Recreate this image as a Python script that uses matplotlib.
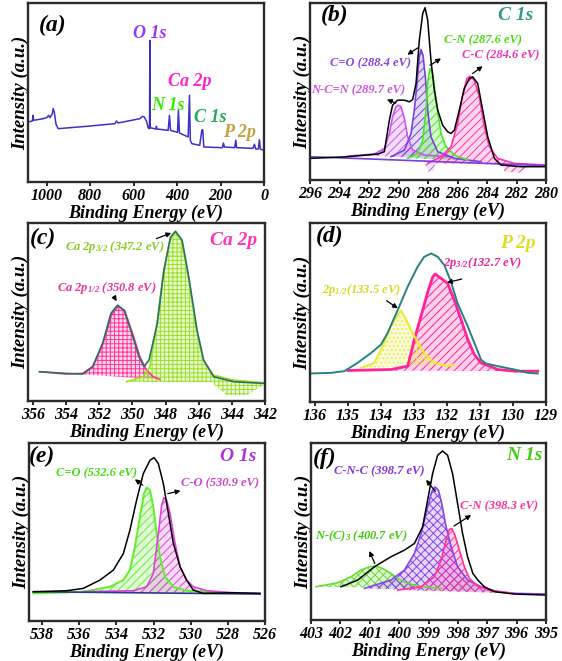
import matplotlib
matplotlib.use("Agg")
import matplotlib.pyplot as plt
from matplotlib.colors import to_rgba

plt.rcParams["font.family"] = "Liberation Serif"
plt.rcParams["font.weight"] = "bold"
plt.rcParams["font.style"] = "italic"
plt.rcParams["axes.labelweight"] = "bold"
plt.rcParams["mathtext.fontset"] = "custom"
plt.rcParams["mathtext.rm"] = "Liberation Serif:bold:italic"
plt.rcParams["mathtext.it"] = "Liberation Serif:bold:italic"
plt.rcParams["mathtext.default"] = "rm"
plt.rcParams["hatch.linewidth"] = 0.7

# ---- (a) survey ----
survey_ev = [1086, 1066, 1063, 1060, 1016, 1000, 991, 985, 974, 970, 965, 957, 947, 817,
             686, 679, 671, 571, 559, 551, 541, 533, 527, 525, 524, 498, 495, 492, 441,
             435, 430, 398, 394, 389, 349, 343, 339, 332, 296, 286, 282, 277, 191, 187,
             182, 135, 130, 126, 51, 44, 38, 26, 21, 17, 0]
survey_int = [180, 183, 200, 185, 190, 193, 200, 193, 205, 220, 210, 173, 160, 167,
              175, 183, 177, 190, 197, 195, 183, 163, 160, 425, 163, 159, 167, 159, 155,
              200, 155, 149, 215, 147, 135, 260, 125, 115, 110, 155, 157, 105, 103, 117,
              105, 103, 125, 103, 101, 113, 99, 99, 127, 99, 95]

# ---- (b) C 1s ----
c1s_env_ev = [296, 293.45, 291.41, 290.96, 290.62, 290.40, 290.06, 289.60, 289.27, 289.04,
              288.81, 288.59, 288.36, 288.20, 288.02, 287.80, 287.57, 287.34, 287.01, 286.67,
              286.44, 286.21, 285.88, 285.54, 285.20, 284.97, 284.63, 284.29, 283.95, 283.50,
              283.05, 281.70, 280.0]
c1s_env_int = [65, 70, 78, 85, 180, 225, 240, 240, 235, 242, 290, 420, 500, 518, 480, 360,
               270, 210, 165, 145, 140, 150, 210, 275, 305, 310, 290, 210, 130, 65, 45, 40, 40]
c1s_ncn_ev = [293.45, 291.64, 290.96, 290.62, 290.40, 290.17, 290.01, 289.83, 289.60, 289.38,
              289.04, 288.25, 286.67]
c1s_ncn_int = [72, 78, 95, 140, 190, 220, 225, 220, 185, 130, 90, 75, 70]
c1s_co_ev = [290.51, 289.60, 289.15, 288.93, 288.75, 288.59, 288.47, 288.34, 288.18, 288.02,
             287.80, 287.34, 286.21, 284.41]
c1s_co_int = [70, 90, 140, 210, 290, 370, 392, 375, 310, 210, 130, 85, 65, 55]
c1s_cn_ev = [289.38, 288.70, 288.36, 288.14, 288.0, 287.86, 287.68, 287.46, 287.12, 286.78,
             286.21, 285.31]
c1s_cn_int = [65, 80, 120, 210, 300, 335, 320, 240, 140, 100, 75, 60]
c1s_cc_ev = [288.02, 287.12, 286.44, 285.99, 285.65, 285.36, 285.15, 284.86, 284.52, 284.18,
             283.84, 283.28, 282.15, 280.0]
c1s_cc_int = [50, 70, 100, 170, 255, 305, 312, 300, 250, 160, 100, 65, 50, 45]
c1s_base_ev = [296, 280]
c1s_base_int = [70, 43]
# fit residue below the baseline
c1s_res1_ev = [288.3, 287.9, 287.5, 287.6, 288.0]
c1s_res1_int = [60, 58, 55, 28, 25]
c1s_res2_ev = [283.0, 282.0, 281.2, 281.8, 282.8]
c1s_res2_int = [45, 43, 42, 22, 25]

# ---- (c) Ca 2p ----
ca_env_ev = [355.6, 354.0, 353.0, 352.4, 351.8, 351.3, 350.9, 350.5, 350.0, 349.6, 349.3,
             349.0, 348.5, 348.1, 347.7, 347.4, 347.0, 346.6, 346.1, 345.7, 345.1, 343.9, 342.1]
ca_env_int = [88, 83, 81, 103, 173, 263, 288, 273, 198, 133, 103, 123, 233, 393, 493, 510,
              483, 373, 213, 123, 73, 58, 53]
ca_12_ev = [355.6, 354.0, 353.0, 352.4, 351.77, 351.27, 350.86, 350.46, 349.96, 349.55,
            349.15, 348.75, 348.35]
ca_12_int = [88, 81, 83, 103, 173, 258, 285, 271, 198, 133, 93, 73, 65]
ca_32_ev = [350.36, 349.35, 348.95, 348.55, 348.14, 347.74, 347.38, 347.04, 346.63, 346.13,
            345.73, 345.12, 343.92, 342.10]
ca_32_int = [58, 73, 103, 223, 383, 483, 508, 483, 373, 213, 123, 78, 63, 55]
ca_res_ev = [345.3, 342.1, 342.1, 343.1, 344.3, 345.1]
ca_res_int = [58, 53, 48, 18, 18, 50]

# ---- (d) P 2p ----
p_env_ev = [136.15, 135.51, 135.11, 134.71, 134.30, 134.0, 133.80, 133.49, 133.19, 132.89,
            132.69, 132.48, 132.28, 132.08, 131.88, 131.68, 131.37, 131.17, 130.97, 130.82,
            130.46, 129.96, 129.55, 129.25]
p_env_int = [86, 88, 93, 118, 148, 173, 208, 278, 348, 408, 438, 448, 438, 413, 363, 298,
             228, 178, 128, 116, 108, 98, 88, 86]
p_12_ev = [134.60, 134.20, 133.90, 133.70, 133.49, 133.39, 133.24, 132.99, 132.69, 132.38,
           131.98, 131.78]
p_12_int = [103, 118, 178, 228, 263, 276, 248, 198, 148, 118, 108, 113]
p_32_ev = [135.0, 133.70, 133.19, 132.99, 132.79, 132.58, 132.43, 132.36, 132.18, 131.98,
           131.78, 131.57, 131.37, 131.17, 130.97, 130.46, 129.96, 129.25]
p_32_int = [95, 98, 108, 188, 258, 333, 378, 386, 373, 358, 308, 248, 188, 143, 118, 98, 93, 93]

# ---- (e) O 1s ----
o_env_ev = [538.47, 536.67, 535.78, 534.88, 534.16, 533.62, 533.27, 532.91, 532.55, 532.19,
            531.97, 531.74, 531.47, 531.20, 530.93, 530.57, 530.22, 529.86, 529.32, 527.70,
            526.27]
o_env_int = [88, 91, 98, 123, 153, 203, 273, 363, 443, 483, 491, 473, 413, 323, 233, 163,
             123, 93, 83, 85, 83]
o_co_ev = [538.47, 535.78, 534.34, 533.62, 533.27, 533.0, 532.73, 532.51, 532.37, 532.19,
           532.01, 531.83, 531.65, 531.38, 530.93, 530.22, 528.60]
o_co_int = [83, 88, 103, 123, 153, 223, 313, 383, 401, 393, 343, 263, 193, 133, 103, 91, 85]
o_c_o_ev = [535.78, 533.09, 532.37, 532.01, 531.74, 531.56, 531.44, 531.29, 531.11, 530.84,
            530.57, 530.22, 529.86, 529.14, 527.70, 526.27]
o_c_o_int = [88, 91, 103, 143, 263, 348, 371, 363, 323, 233, 163, 123, 103, 91, 85, 83]
o_base_ev = [538.47, 526.27]
o_base_int = [88, 81]

# ---- (f) N 1s ----
n_env_ev = [401.98, 401.41, 400.84, 400.28, 399.82, 399.48, 399.20, 399.03, 398.86, 398.69,
            398.52, 398.35, 398.18, 398.01, 397.84, 397.67, 397.49, 397.32, 397.10, 396.76,
            396.08, 395.0]
n_env_int = [100, 120, 160, 190, 210, 230, 280, 360, 440, 495, 508, 495, 440, 350, 260, 190,
             140, 120, 100, 85, 78, 75]
n_nc3_ev = [402.83, 402.09, 401.64, 401.30, 401.01, 400.79, 400.56, 400.28, 400.05, 399.71,
            399.25, 398.57]
n_nc3_int = [100, 112, 130, 150, 160, 162, 155, 140, 125, 110, 100, 95]
n_cnc_ev = [401.18, 400.28, 399.82, 399.48, 399.25, 399.03, 398.89, 398.78, 398.66, 398.55,
            398.40, 398.23, 398.01, 397.67, 397.21, 396.64, 396.08, 395.0]
n_cnc_int = [95, 120, 150, 200, 260, 340, 385, 400, 390, 350, 280, 220, 160, 120, 100, 85, 80, 78]
n_cn_ev = [400.05, 399.25, 398.80, 398.57, 398.40, 398.29, 398.21, 398.10, 397.95, 397.78,
           397.61, 397.38, 396.98, 396.08]
n_cn_int = [90, 100, 130, 180, 240, 272, 275, 255, 210, 160, 125, 105, 90, 80]
n_res_ev = [398.6, 398.0, 397.5, 397.3, 397.6, 398.3]
n_res_int = [95, 130, 120, 95, 88, 88]

W, H = 562, 661
fig = plt.figure(figsize=(W / 100, H / 100), dpi=100)


def make_axes(l, t, r, b, xlim, ylim, xticks):
    ax = fig.add_axes([l / W, 1 - b / H, (r - l) / W, (b - t) / H])
    ax.set_xlim(*xlim)
    ax.set_ylim(*ylim)
    ax.set_xticks(xticks)
    ax.set_xticklabels([str(v) for v in xticks], fontweight="bold", fontstyle="italic")
    ax.set_yticks([])
    for s in ax.spines.values():
        s.set_linewidth(1.7)
        s.set_color("#2b2b2b")
    ax.tick_params(axis="x", direction="out", length=3, width=1.2, labelsize=11.5, pad=1)
    ax.set_xlabel("Binding Energy (eV)", fontsize=13, fontweight="bold", labelpad=1)
    ax.set_ylabel("Intensity (a.u.)", fontsize=13.5, fontweight="bold", labelpad=-1)
    return ax


def peak(ax, x, y, color, hatch, lw=1.2):
    ax.fill(x, y, facecolor=to_rgba(color, 0.2), edgecolor=color, hatch=hatch, linewidth=0)
    ax.plot(x, y, color=color, lw=lw)


def residue(ax, x, y, color, hatch):
    ax.fill(x, y, facecolor=to_rgba(color, 0.15), edgecolor=color, hatch=hatch, linewidth=0)


def label(ax, fx, fy, text, color, size=9):
    ax.text(fx, fy, text, color=color, fontsize=size, fontweight="bold",
            transform=ax.transAxes, ha="center", va="center")


def arrow(ax, tail, head):
    ax.annotate("", xy=head, xytext=tail,
                arrowprops=dict(arrowstyle="-|>", color="black", lw=0.9, mutation_scale=7))


# (a)
ax = make_axes(28, 3, 264, 182, (1086, 0), (0, 537), [1000, 800, 600, 400, 200, 0])
ax.plot(survey_ev, survey_int, color="#3b30c8", lw=1.1)
label(ax, 0.106, 0.877, "(a)", "black", 17)
label(ax, 0.517, 0.832, "O 1s", "#9933ff", 13)
label(ax, 0.593, 0.430, "N 1s", "#33ee00", 13)
label(ax, 0.686, 0.559, "Ca 2p", "#ff22cc", 13)
label(ax, 0.771, 0.358, "C 1s", "#22aa55", 13)
label(ax, 0.898, 0.279, "P 2p", "#c8a040", 13)

# (b)
ax = make_axes(310, 3, 546, 180, (296, 280), (0, 532), list(range(296, 279, -2)))
residue(ax, c1s_res1_ev, c1s_res1_int, "#cc55ee", "////")
residue(ax, c1s_res2_ev, c1s_res2_int, "#ff33aa", "////")
peak(ax, c1s_ncn_ev, c1s_ncn_int, "#cc55ee", "////")
peak(ax, c1s_co_ev, c1s_co_int, "#7744dd", "////")
peak(ax, c1s_cn_ev, c1s_cn_int, "#44ee22", "////")
peak(ax, c1s_cc_ev, c1s_cc_int, "#ff33aa", "////")
ax.plot(c1s_base_ev, c1s_base_int, color="#7a3ce0", lw=1.2)
ax.plot(c1s_env_ev, c1s_env_int, color="black", lw=1.1)
label(ax, 0.103, 0.932, "(b)", "black", 17)
label(ax, 0.873, 0.932, "C 1s", "#33998a", 14)
label(ax, 0.732, 0.791, "C-N (287.6 eV)", "#44dd11")
label(ax, 0.809, 0.706, "C-C (284.6 eV)", "#ee33bb")
label(ax, 0.258, 0.659, "C=O (288.4 eV)", "#8844dd")
label(ax, 0.205, 0.508, "N-C=N (289.7 eV)", "#cc55dd")
arrow(ax, (288.52, 402), (289.56, 372))
arrow(ax, (290.01, 228), (290.96, 245))
arrow(ax, (288.02, 340), (286.96, 370))
arrow(ax, (285.13, 315), (284.14, 347))

# (c)
ax = make_axes(28, 223, 265, 401, (356.3, 342), (0, 535), list(range(356, 341, -2)))
residue(ax, ca_res_ev, ca_res_int, "#99e022", "++++")
peak(ax, ca_12_ev, ca_12_int, "#ff3399", "++++")
peak(ax, ca_32_ev, ca_32_int, "#99e022", "++++")
ax.plot(ca_env_ev, ca_env_int, color="#2a6f6a", lw=1.2)
label(ax, 0.065, 0.914, "(c)", "black", 17)
label(ax, 0.866, 0.904, "Ca 2p", "#ff33bb", 14)
label(ax, 0.367, 0.867, "Ca 2p$_{3/2}$ (347.2 eV)", "#88cc22")
label(ax, 0.332, 0.633, "Ca 2p$_{1/2}$ (350.8 eV)", "#ee3399")
arrow(ax, (348.71, 485), (347.50, 508))
arrow(ax, (351.17, 318), (350.86, 293))

# (d)
ax = make_axes(310, 223, 546, 402, (136.15, 129), (0, 540), list(range(136, 128, -1)))
peak(ax, p_32_ev, p_32_int, "#ff2299", "////", lw=2.0)
peak(ax, p_12_ev, p_12_int, "#e6ee33", "....", lw=1.5)
ax.plot(p_env_ev, p_env_int, color="#2a8080", lw=1.4)
label(ax, 0.082, 0.923, "(d)", "black", 17)
label(ax, 0.880, 0.887, "P 2p", "#dddd22", 14)
label(ax, 0.732, 0.775, "2p$_{3/2}$(132.7 eV)", "#ee2299")
label(ax, 0.216, 0.626, "2p$_{1/2}$(133.5 eV)", "#d8d820")
arrow(ax, (131.47, 373), (132.08, 358))
arrow(ax, (133.90, 310), (133.42, 278))

# (e)
ax = make_axes(29, 443, 265, 621, (538.7, 526), (0, 535), list(range(538, 525, -2)))
peak(ax, o_co_ev, o_co_int, "#66ee33", "////", lw=1.5)
peak(ax, o_c_o_ev, o_c_o_int, "#dd44dd", "////")
ax.plot(o_base_ev, o_base_int, color="#2a3a9a", lw=1.2)
ax.plot(o_env_ev, o_env_int, color="black", lw=1.1)
label(ax, 0.053, 0.925, "(e)", "black", 17)
label(ax, 0.887, 0.923, "O 1s", "#aa33dd", 14)
label(ax, 0.287, 0.830, "C=O (532.6 eV)", "#44dd11")
label(ax, 0.809, 0.773, "C-O (530.9 eV)", "#cc44cc")
arrow(ax, (532.46, 403), (533.12, 431))
arrow(ax, (531.38, 381), (530.40, 393))

# (f)
ax = make_axes(311, 443, 546, 620, (403, 395), (0, 532), list(range(403, 394, -1)))
residue(ax, n_res_ev, n_res_int, "#f0c030", "////")
peak(ax, n_nc3_ev, n_nc3_int, "#66dd33", "xxxx")
peak(ax, n_cnc_ev, n_cnc_int, "#8844ee", "xxxx")
peak(ax, n_cn_ev, n_cn_int, "#ff3399", "////")
ax.plot(n_env_ev, n_env_int, color="black", lw=1.1)
label(ax, 0.057, 0.914, "(f)", "black", 17)
label(ax, 0.908, 0.932, "N 1s", "#44cc11", 14)
label(ax, 0.291, 0.838, "C-N-C (398.7 eV)", "#8833dd")
label(ax, 0.801, 0.640, "C-N (398.3 eV)", "#ff3399")
label(ax, 0.213, 0.471, "N-(C)$_3$ (400.7 eV)", "#44cc11")
arrow(ax, (398.71, 380), (399.14, 428))
arrow(ax, (398.21, 278), (397.47, 320))
arrow(ax, (400.79, 162), (401.05, 215))

fig.savefig("out.png", dpi=100)
